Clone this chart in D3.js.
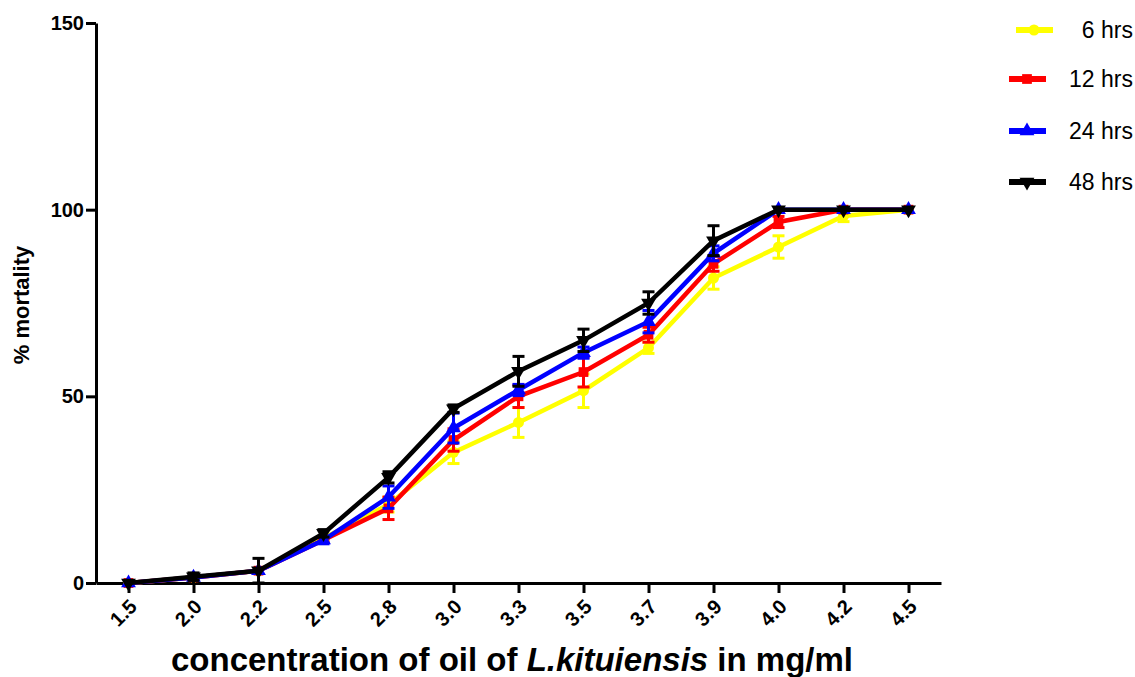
<!DOCTYPE html>
<html>
<head>
<meta charset="utf-8">
<script src="https://cdn.jsdelivr.net/npm/d3@7"></script>
<style>
  body { margin: 0; background: #fff; }
  text { font-family: "Liberation Sans", Arial, sans-serif; }
</style>
</head>
<body>
<div id="chart"></div>
<script>
// data
var concentrations = ["1.5", "2.0", "2.2", "2.5", "2.8", "3.0", "3.3", "3.5", "3.7", "3.9", "4.0", "4.2", "4.5"];
var yTicks = [0, 50, 100, 150];

var hrs6  = [0, 1.5, 3.3, 12, 21, 35, 43, 51.5, 63, 81.7, 90, 98.3, 100];
var hrs12 = [0, 1.5, 3.3, 11.5, 20, 38.3, 50, 56.5, 66.5, 85.5, 96.7, 100, 100];
var hrs24 = [0, 1.5, 3.3, 11.5, 23, 41.5, 51.7, 61.7, 70, 88.3, 100, 100, 100];
var hrs48 = [0, 1.7, 3.3, 13.3, 28.3, 46.7, 56.7, 65, 75, 91.7, 100, 100, 100];

var err6  = [0, 0, 0, 0.5, 2, 3, 4, 4.5, 1.5, 3, 3, 1.5, 0];
var err12 = [0, 0, 0, 0.5, 3, 3, 3, 4, 2, 2, 1.5, 0, 0];
var err24 = [0, 0, 0, 1, 3, 4, 1.5, 1.5, 3, 2, 0, 0, 0];
var err48 = [0, 1, 3.3, 1, 1.5, 1, 4, 3, 3, 4, 0, 0, 0];

var seriesNames = ["6 hrs", "12 hrs", "24 hrs", "48 hrs"];
var seriesColors = ["#ffff00", "#ff0000", "#0000ff", "#000000"];

var series = [
  {name: seriesNames[0], values: hrs6,  err: err6,  color: seriesColors[0], symbol: d3.symbolCircle, rot: 0},
  {name: seriesNames[1], values: hrs12, err: err12, color: seriesColors[1], symbol: d3.symbolSquare, rot: 0},
  {name: seriesNames[2], values: hrs24, err: err24, color: seriesColors[2], symbol: d3.symbolTriangle, rot: 0},
  {name: seriesNames[3], values: hrs48, err: err48, color: seriesColors[3], symbol: d3.symbolTriangle, rot: 180}
];

var W = 1135, H = 677;
var margin = {top: 23, left: 96, right: 194, bottom: 94};
var width = W - margin.left - margin.right,
    height = H - margin.top - margin.bottom;

var svg = d3.select("#chart").append("svg")
    .attr("width", W)
    .attr("height", H);

var g = svg.append("g")
    .attr("transform", "translate(" + margin.left + "," + margin.top + ")");

var x = d3.scalePoint()
    .domain(concentrations)
    .range([0, width])
    .padding(0.5);

var y = d3.scaleLinear()
    .domain([0, 150])
    .range([height, 0]);

// axes
var xAxis = g.append("g")
    .attr("transform", "translate(0," + height + ")")
    .call(d3.axisBottom(x).tickSize(10).tickSizeOuter(0));

xAxis.selectAll("text")
    .attr("text-anchor", "end")
    .attr("x", 0)
    .attr("y", 0)
    .attr("dy", 0)
    .attr("transform", "translate(9,25) rotate(-45)")
    .style("font-size", "20px")
    .style("font-weight", "bold");

var yAxis = g.append("g")
    .call(d3.axisLeft(y).tickValues(yTicks).tickSize(10).tickSizeOuter(0));

yAxis.selectAll("text")
    .attr("x", -12)
    .style("font-size", "20px")
    .style("font-weight", "bold");

g.selectAll(".domain, .tick line")
    .attr("stroke", "#000")
    .attr("stroke-width", 3);

// lines, error bars, markers
var line = d3.line()
    .x(function(d, i) { return x(concentrations[i]); })
    .y(function(d) { return y(d); });

series.forEach(function(s) {
  var sg = g.append("g");

  // error bars (mean +/- err) with caps
  s.values.forEach(function(v, i) {
    var e = s.err[i];
    if (e <= 0) return;
    var cx = x(concentrations[i]);
    sg.append("line")
      .attr("x1", cx).attr("x2", cx)
      .attr("y1", y(v - e)).attr("y2", y(v + e))
      .attr("stroke", s.color).attr("stroke-width", 3);
    [v - e, v + e].forEach(function(val) {
      sg.append("line")
        .attr("x1", cx - 6).attr("x2", cx + 6)
        .attr("y1", y(val)).attr("y2", y(val))
        .attr("stroke", s.color).attr("stroke-width", 3);
    });
  });

  sg.append("path")
      .datum(s.values)
      .attr("fill", "none")
      .attr("stroke", s.color)
      .attr("stroke-width", 4.5)
      .attr("d", line);

  sg.selectAll("path.marker")
      .data(s.values)
      .enter()
      .append("path")
      .attr("class", "marker")
      .attr("d", d3.symbol().type(s.symbol).size(95))
      .attr("fill", s.color)
      .attr("transform", function(d, i) {
        return "translate(" + x(concentrations[i]) + "," + y(d) + ") rotate(" + s.rot + ")";
      });
});

// axis titles
svg.append("text")
    .attr("transform", "translate(29,305) rotate(-90)")
    .attr("text-anchor", "middle")
    .style("font-size", "22px")
    .style("font-weight", "bold")
    .text("% mortality");

var xt = svg.append("text")
    .attr("x", 512)
    .attr("y", 671)
    .attr("text-anchor", "middle")
    .style("font-size", "33px")
    .style("font-weight", "bold");
xt.append("tspan").text("concentration of oil of ");
xt.append("tspan").style("font-style", "italic").text("L.kituiensis");
xt.append("tspan").text(" in mg/ml");

// legend
var legendY = [30, 79, 131, 182];
var legend = svg.append("g");
series.forEach(function(s, i) {
  var lx = i === 0 ? 1016 : 1009;
  var lg = legend.append("g");
  lg.append("line")
      .attr("x1", lx).attr("x2", lx + 37)
      .attr("y1", legendY[i]).attr("y2", legendY[i])
      .attr("stroke", s.color).attr("stroke-width", 6);
  lg.append("path")
      .attr("d", d3.symbol().type(s.symbol).size(95))
      .attr("fill", s.color)
      .attr("transform", "translate(" + (lx + 18) + "," + legendY[i] + ") rotate(" + s.rot + ")");
  lg.append("text")
      .attr("x", 1133)
      .attr("y", legendY[i] + 8)
      .attr("text-anchor", "end")
      .style("font-size", "23px")
      .text(s.name);
});
</script>
</body>
</html>
